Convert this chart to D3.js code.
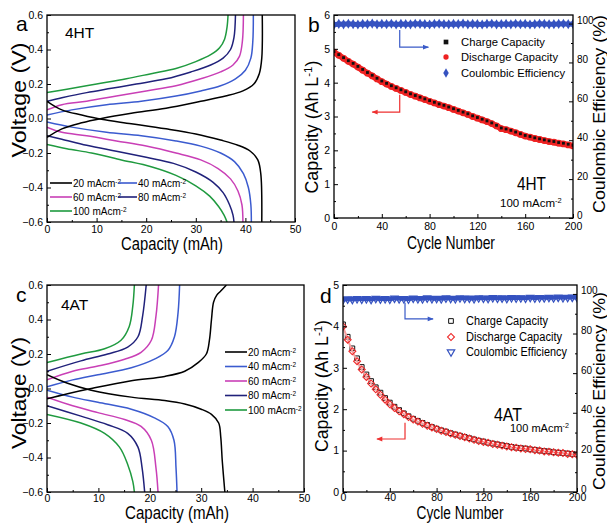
<!DOCTYPE html>
<html>
<head>
<meta charset="utf-8">
<script src="https://cdn.jsdelivr.net/npm/d3@7"></script>
<style>
  body { margin: 0; background: #fff; }
  text { font-family: "Liberation Sans", Arial, sans-serif; fill: #000; }
</style>
</head>
<body>
<script>
// ---- data ----
const rates = ["20", "40", "60", "80", "100"];
const rateColors = ["#000000", "#3b5bcf", "#c93fb6", "#20217a", "#1f9a3f"];

// panel a (4HT): [capacity mAh, voltage V], one curve per rate
const htCharge = [
  [[0,-0.11],[3,-0.06],[7,-0.025],[11,0],[17,0.03],[24,0.06],[31,0.1],[36,0.13],[39.5,0.16],[41.7,0.2],[42.8,0.26],[43.3,0.35],[43.4,0.6]],
  [[0,0.02],[5,0.05],[12,0.08],[19,0.1],[26,0.13],[31,0.16],[35,0.19],[38,0.23],[40,0.28],[41.1,0.35],[41.5,0.45],[41.6,0.6]],
  [[0,0.05],[3,0.08],[8,0.1],[14,0.13],[20,0.16],[26,0.19],[31,0.23],[35,0.27],[37.5,0.31],[38.8,0.36],[39.4,0.45],[39.6,0.6]],
  [[0,0.1],[3,0.12],[8,0.15],[13,0.175],[18,0.2],[24,0.23],[29,0.27],[33,0.31],[35.5,0.35],[37,0.4],[37.7,0.47],[38,0.6]],
  [[0,0.15],[4,0.17],[10,0.2],[16,0.23],[21,0.26],[26,0.29],[30,0.33],[33,0.37],[34.8,0.41],[35.8,0.46],[36.3,0.53],[36.5,0.6]]
];
const htDischarge = [
  [[0,0.1],[3,0.05],[7,0.02],[11,-0.005],[17,-0.03],[24,-0.06],[30,-0.09],[35,-0.125],[38.5,-0.155],[41,-0.19],[42.5,-0.24],[43.1,-0.32],[43.3,-0.6]],
  [[0,-0.02],[5,-0.05],[12,-0.08],[19,-0.1],[26,-0.13],[31,-0.16],[35,-0.2],[37.8,-0.25],[39.6,-0.32],[40.6,-0.4],[41.1,-0.5],[41.2,-0.6]],
  [[0,-0.05],[3,-0.08],[8,-0.1],[14,-0.13],[20,-0.16],[26,-0.2],[31,-0.24],[34.5,-0.29],[37,-0.35],[38.5,-0.42],[39.3,-0.5],[39.5,-0.6]],
  [[0,-0.1],[3,-0.12],[8,-0.155],[14,-0.19],[20,-0.225],[25.5,-0.26],[30,-0.31],[33.5,-0.37],[35.5,-0.43],[36.8,-0.5],[37.5,-0.56],[37.7,-0.6]],
  [[0,-0.15],[4,-0.175],[9,-0.2],[15,-0.24],[21,-0.28],[26,-0.33],[30,-0.39],[32.8,-0.45],[34.6,-0.51],[35.7,-0.56],[36.3,-0.6]]
];

// panel c (4AT)
const atCharge = [
  [[0,-0.06],[4,-0.03],[8.6,0],[16.4,0.045],[22.9,0.07],[26.8,0.1],[29.4,0.15],[31,0.2],[31.6,0.28],[32,0.4],[32.4,0.5],[33,0.54],[33.8,0.565],[34.9,0.6]],
  [[0,0.01],[5,0.05],[9.9,0.08],[16.4,0.12],[20.9,0.17],[23.5,0.22],[24.8,0.3],[25.5,0.44],[25.8,0.6]],
  [[0,0.05],[5,0.1],[9.9,0.13],[15.1,0.17],[18.3,0.21],[20.3,0.28],[21.2,0.42],[21.7,0.6]],
  [[0,0.1],[6.6,0.16],[11.8,0.2],[15.7,0.24],[17.7,0.3],[18.6,0.42],[19.3,0.6]],
  [[0,0.15],[6.6,0.2],[11.2,0.23],[14.4,0.28],[16,0.36],[16.7,0.48],[17,0.6]]
];
const atDischarge = [
  [[0,0.08],[4,0.03],[8.6,-0.01],[16.4,-0.05],[22.9,-0.07],[26.8,-0.09],[30,-0.12],[32,-0.15],[33.4,-0.2],[33.8,-0.28],[34.1,-0.42],[34.6,-0.6]],
  [[0,-0.01],[5,-0.05],[9.9,-0.08],[16.4,-0.12],[20.9,-0.17],[23.5,-0.22],[24.7,-0.3],[25.1,-0.46],[25.3,-0.6]],
  [[0,-0.05],[5,-0.1],[9.9,-0.14],[15.1,-0.18],[18.3,-0.22],[20.3,-0.3],[21.2,-0.46],[21.6,-0.6]],
  [[0,-0.1],[6.6,-0.16],[11.8,-0.21],[15.7,-0.26],[17.7,-0.34],[18.5,-0.46],[19,-0.6]],
  [[0,-0.15],[6.6,-0.2],[11.2,-0.26],[14.1,-0.34],[15.7,-0.44],[16.7,-0.54],[17,-0.6]]
];

// panels b and d: sampled every 4 cycles
const cycles = [0,4,8,12,16,20,24,28,32,36,40,44,48,52,56,60,64,68,72,76,80,84,88,92,96,100,
  104,108,112,116,120,124,128,132,136,140,144,148,152,156,160,164,168,172,176,180,184,188,192,196,200];

const htChargeCap = [4.92,4.83,4.74,4.65,4.57,4.48,4.39,4.30,4.22,4.13,4.05,3.98,3.91,3.85,3.79,3.73,3.67,
  3.62,3.57,3.52,3.47,3.42,3.37,3.33,3.28,3.23,3.18,3.13,3.08,3.02,2.97,2.92,2.87,2.81,2.74,2.66,2.63,
  2.59,2.54,2.49,2.44,2.41,2.37,2.34,2.31,2.28,2.26,2.23,2.21,2.18,2.15];
const htDischargeCap = [4.90,4.81,4.72,4.63,4.55,4.46,4.37,4.28,4.20,4.11,4.03,3.96,3.89,3.83,3.77,3.71,3.65,
  3.60,3.55,3.50,3.45,3.40,3.35,3.31,3.26,3.21,3.16,3.11,3.06,3.00,2.95,2.90,2.85,2.79,2.72,2.64,2.61,
  2.57,2.52,2.47,2.42,2.39,2.35,2.32,2.29,2.26,2.24,2.21,2.19,2.16,2.13];
const htCE = [99.4,99.8,99.6,99.9,99.7,99.5,99.8,99.7,100.0,99.6,99.8,99.7,99.9,99.5,99.8,99.7,99.6,
  99.9,99.8,99.7,99.5,99.8,99.9,99.7,99.6,99.8,99.7,100.0,99.6,99.8,99.7,99.5,99.8,99.9,99.6,99.7,99.8,
  99.6,99.9,99.7,99.8,99.5,99.7,99.9,99.8,99.6,99.7,99.8,99.9,99.7,99.8];

const atChargeCap = [4.05,3.75,3.47,3.23,3.02,2.84,2.68,2.53,2.40,2.27,2.16,2.06,1.98,1.90,1.83,1.77,1.72,
  1.67,1.62,1.57,1.53,1.49,1.46,1.42,1.39,1.36,1.33,1.30,1.27,1.24,1.22,1.19,1.17,1.15,1.13,1.11,1.09,
  1.07,1.06,1.05,1.03,1.02,1.00,0.99,0.98,0.96,0.95,0.94,0.93,0.92,0.91];
const atDischargeCap = [4.00,3.68,3.40,3.16,2.96,2.78,2.62,2.48,2.35,2.23,2.12,2.03,1.95,1.88,1.81,1.75,1.70,
  1.65,1.60,1.56,1.52,1.48,1.45,1.41,1.38,1.35,1.32,1.29,1.26,1.23,1.21,1.19,1.16,1.14,1.12,1.10,1.08,
  1.07,1.05,1.04,1.03,1.01,1.00,0.98,0.97,0.96,0.95,0.94,0.92,0.91,0.90];
const atCE = [97.0,97.4,97.2,97.6,97.3,97.5,97.2,97.7,97.4,97.6,97.3,97.8,97.5,97.6,97.4,97.8,97.6,
  97.5,97.9,97.6,97.7,97.5,97.9,97.7,97.6,98.0,97.7,97.8,97.6,98.0,97.8,97.7,98.1,97.8,97.9,97.7,98.1,
  97.9,98.0,97.8,98.2,97.9,98.1,98.0,98.2,98.0,98.3,98.1,98.2,98.3,98.2];

// tick labels
const voltTicks = [-0.6,-0.4,-0.2,0.0,0.2,0.4,0.6];
const capTicks = [0,10,20,30,40,50];
const cycleTicks = [0,40,80,120,160,200];
const htCapTicks = [0,1,2,3,4,5,6];
const atCapTicks = [0,1,2,3,4,5];
const ceTicks = [0,20,40,60,80,100];
const seriesNames = ["Charge Capacity", "Discharge Capacity", "Coulombic Efficiency"];

const FONT = '"Liberation Sans", Arial, sans-serif';

const svg = d3.select("body").append("svg")
  .attr("width", 607)
  .attr("height", 523);
const defs = svg.append("defs");

function arrowMarker(id, color) {
  defs.append("marker")
    .attr("id", id)
    .attr("viewBox", "0 0 10 10")
    .attr("refX", 9).attr("refY", 5)
    .attr("markerWidth", 7).attr("markerHeight", 6)
    .attr("markerUnits", "userSpaceOnUse")
    .attr("orient", "auto")
    .append("path")
    .attr("d", "M0,1 L10,5 L0,9 Z")
    .attr("fill", color);
}
arrowMarker("arrBlue", "#3a5bc8");
arrowMarker("arrRed", "#ee3030");

// text with optional superscript parts: parts = [[str, isSup], ...]
function addText(g, x, y, parts, size, opts) {
  opts = opts || {};
  const t = g.append("text")
    .attr("font-size", size)
    .attr("text-anchor", opts.anchor || "start");
  if (opts.rotate) {
    t.attr("transform", `translate(${x},${y}) rotate(${opts.rotate})`);
  } else {
    t.attr("x", x).attr("y", y);
  }
  if (opts.length) t.attr("textLength", opts.length).attr("lengthAdjust", "spacingAndGlyphs");
  if (typeof parts === "string") parts = [[parts, false]];
  parts.forEach(p => {
    const s = t.append("tspan").text(p[0]);
    if (p[1]) s.attr("font-size", size * 0.65).attr("baseline-shift", "super");
  });
  return t;
}

function styleAxis(a, fs) {
  a.select(".domain").remove();
  a.attr("font-family", FONT).attr("font-size", fs);
  a.selectAll("line").attr("stroke", "#000").attr("stroke-width", 1);
  a.selectAll("text").attr("fill", "#000");
  return a;
}

function frame(g, box) {
  g.append("rect")
    .attr("x", box.x0).attr("y", box.y0)
    .attr("width", box.x1 - box.x0).attr("height", box.y1 - box.y0)
    .attr("fill", "none").attr("stroke", "#000").attr("stroke-width", 1.3);
}

function clip(id, box) {
  defs.append("clipPath").attr("id", id)
    .append("rect")
    .attr("x", box.x0).attr("y", box.y0)
    .attr("width", box.x1 - box.x0).attr("height", box.y1 - box.y0);
}

// ---- voltage profile panels ----
function voltagePanel(box, chargeSet, dischargeSet, id, pad) {
  const x = d3.scaleLinear().domain([0, 50]).range([box.x0, box.x1]);
  const y = d3.scaleLinear().domain([-0.6, 0.6]).range([box.y1, box.y0]);
  const g = svg.append("g");
  clip("clip" + id, box);

  const line = d3.line()
    .x(d => x(d[0]))
    .y(d => y(d[1]))
    .curve(d3.curveCatmullRom.alpha(0.5));

  const curves = g.append("g").attr("clip-path", `url(#clip${id})`);
  for (let i = rates.length - 1; i >= 0; i--) {
    [chargeSet[i], dischargeSet[i]].forEach(pts => {
      curves.append("path")
        .attr("d", line(pts))
        .attr("fill", "none")
        .attr("stroke", rateColors[i])
        .attr("stroke-width", 1.5);
    });
  }

  // minor + major ticks, pointing inward
  styleAxis(g.append("g").attr("transform", `translate(0,${box.y1})`)
    .call(d3.axisBottom(x).tickValues([5, 15, 25, 35, 45]).tickSize(-2).tickFormat("")), 10.5);
  styleAxis(g.append("g").attr("transform", `translate(0,${box.y1})`)
    .call(d3.axisBottom(x).tickValues(capTicks).tickSize(-4).tickPadding(pad).tickFormat(d3.format("d"))), 10.5);
  styleAxis(g.append("g").attr("transform", `translate(${box.x0},0)`)
    .call(d3.axisLeft(y).tickValues([-0.5, -0.3, -0.1, 0.1, 0.3, 0.5]).tickSize(-2).tickFormat("")), 10.5);
  styleAxis(g.append("g").attr("transform", `translate(${box.x0},0)`)
    .call(d3.axisLeft(y).tickValues(voltTicks).tickSize(-4).tickPadding(4).tickFormat(d3.format(".1f"))), 10.5);

  frame(g, box);
  return { g, x, y };
}

// legend entries for rates
function rateLegend(g, entries) {
  entries.forEach(e => {
    g.append("line")
      .attr("x1", e.lx0).attr("x2", e.lx1)
      .attr("y1", e.y).attr("y2", e.y)
      .attr("stroke", rateColors[e.i]).attr("stroke-width", 1.6);
    addText(g, e.lx1 + 1, e.y + 3.5, [[rates[e.i] + " mAcm", false], ["-2", true]], 10);
  });
}

// ---- cycling panels ----
function cyclePanel(box, capMax, capTicks, ceMax, ser, id, opts) {
  const x = d3.scaleLinear().domain([0, 200]).range([box.x0, box.x1]);
  const yL = d3.scaleLinear().domain([0, capMax]).range([box.y1, box.y0]);
  const yR = d3.scaleLinear().domain([0, ceMax]).range([box.y1, box.y0]);
  const g = svg.append("g");
  clip("clip" + id, box);
  const marks = g.append("g").attr("clip-path", `url(#clip${id})`);

  const sym = (type, size) => d3.symbol().type(type).size(size)();

  function drawSeries(vals, scale, st) {
    if (st.band) {
      marks.append("path")
        .attr("d", d3.line().x((c, i) => x(c)).y((c, i) => scale(vals[i]))(cycles))
        .attr("fill", "none")
        .attr("stroke", st.band.color)
        .attr("stroke-width", st.band.width)
        .attr("stroke-linejoin", "round")
        .attr("stroke-linecap", "round");
    }
    marks.append("g").selectAll("path")
      .data(cycles)
      .join("path")
      .attr("transform", (c, i) => `translate(${x(c)},${scale(vals[i])})` + (st.rot ? ` rotate(${st.rot})` : ""))
      .attr("d", sym(st.type, st.size))
      .attr("fill", st.fill)
      .attr("stroke", st.stroke || "none")
      .attr("stroke-width", st.sw || 0);
  }
  ser.order.forEach(k => {
    const s = ser[k];
    drawSeries(s.vals, k === "ce" ? yR : yL, s.style);
  });

  // axes
  styleAxis(g.append("g").attr("transform", `translate(0,${box.y1})`)
    .call(d3.axisBottom(x).tickValues([20, 60, 100, 140, 180]).tickSize(-2).tickFormat("")), 10.5);
  styleAxis(g.append("g").attr("transform", `translate(0,${box.y1})`)
    .call(d3.axisBottom(x).tickValues(cycleTicks).tickSize(-4).tickPadding(opts.pad).tickFormat(d3.format("d"))), 10.5);
  const minorL = capTicks.slice(0, -1).map(v => v + 0.5);
  styleAxis(g.append("g").attr("transform", `translate(${box.x0},0)`)
    .call(d3.axisLeft(yL).tickValues(minorL).tickSize(-2).tickFormat("")), 10.5);
  styleAxis(g.append("g").attr("transform", `translate(${box.x0},0)`)
    .call(d3.axisLeft(yL).tickValues(capTicks).tickSize(-4).tickPadding(4).tickFormat(d3.format("d"))), 10.5);
  styleAxis(g.append("g").attr("transform", `translate(${box.x1},0)`)
    .call(d3.axisRight(yR).tickValues([10, 30, 50, 70, 90]).tickSize(-2).tickFormat("")), 10.5);
  styleAxis(g.append("g").attr("transform", `translate(${box.x1},0)`)
    .call(d3.axisRight(yR).tickValues(ceTicks).tickSize(-4).tickPadding(4).tickFormat(d3.format("d"))), 10)
    .selectAll("text").attr("dy", "0.0em");

  frame(g, box);

  // legend
  ["charge", "discharge", "ce"].forEach((k, i) => {
    const st = ser[k].style;
    const ly = opts.legY[i];
    g.append("path")
      .attr("transform", `translate(${opts.legX},${ly})` + (st.rot ? ` rotate(${st.rot})` : ""))
      .attr("d", sym(st.type, st.legSize || st.size))
      .attr("fill", st.fill)
      .attr("stroke", st.stroke || "none")
      .attr("stroke-width", st.sw || 0);
    addText(g, opts.legX + 15, ly + 4, seriesNames[i], opts.legFont, { length: opts.legLen[i] });
  });

  // arrows pointing to the axes
  const ab = opts.arrowBlue, ar = opts.arrowRed;
  g.append("path")
    .attr("d", d3.line()([[x(ab[0]), yL(ab[1])], [x(ab[0]), yL(ab[2])], [x(ab[3]), yL(ab[2])]]))
    .attr("fill", "none").attr("stroke", "#3a5bc8").attr("stroke-width", 1.2)
    .attr("marker-end", "url(#arrBlue)");
  g.append("path")
    .attr("d", d3.line()([[x(ar[0]), yL(ar[1])], [x(ar[0]), yL(ar[2])], [x(ar[3]), yL(ar[2])]]))
    .attr("fill", "none").attr("stroke", "#ee3030").attr("stroke-width", 1.2)
    .attr("marker-end", "url(#arrRed)");

  return { g, x, yL, yR };
}

// ---- panel a ----
const boxA = { x0: 47, x1: 295, y0: 15, y1: 222 };
const pa = voltagePanel(boxA, htCharge, htDischarge, "a", 3.5);
rateLegend(pa.g, [
  { i: 0, lx0: 50, lx1: 72, y: 183 },
  { i: 1, lx0: 118, lx1: 137, y: 183 },
  { i: 2, lx0: 50, lx1: 72, y: 197 },
  { i: 3, lx0: 118, lx1: 137, y: 197 },
  { i: 4, lx0: 50, lx1: 72, y: 211 }
]);
addText(svg, 65, 38, "4HT", 15.5);
addText(svg, 16, 31, "a", 21);
addText(svg, 172, 249.5, "Capacity (mAh)", 17.5, { anchor: "middle", length: 102 });
addText(svg, 26, 100, "Voltage (V)", 21, { anchor: "middle", rotate: -90, length: 115 });

// ---- panel c ----
const boxC = { x0: 47, x1: 304, y0: 285, y1: 492 };
const pc = voltagePanel(boxC, atCharge, atDischarge, "c", 2.5);
rateLegend(pc.g, [0, 1, 2, 3, 4].map(i => ({ i, lx0: 225, lx1: 247, y: 352 + i * 14.5 })));
addText(svg, 61, 310, "4AT", 15.5);
addText(svg, 16, 302, "c", 21);
addText(svg, 177, 519, "Capacity (mAh)", 17.5, { anchor: "middle", length: 104 });
addText(svg, 26, 393, "Voltage (V)", 21, { anchor: "middle", rotate: -90, length: 112 });

// ---- panel b ----
const boxB = { x0: 334, x1: 573, y0: 15, y1: 218 };
cyclePanel(boxB, 6, htCapTicks, 104.4, {
  order: ["ce", "discharge", "charge"],
  charge: { vals: htChargeCap, style: { type: d3.symbolSquare, size: 8, fill: "#111", legSize: 22 } },
  discharge: { vals: htDischargeCap, style: { type: d3.symbolCircle, size: 36, fill: "#ee2222", legSize: 22, band: { color: "#ee2222", width: 6 } } },
  ce: { vals: htCE, style: { type: d3.symbolDiamond, size: 30, fill: "#3552c0", legSize: 26, band: { color: "#3552c0", width: 5 } } }
}, "b", {
  legX: 446, legY: [42, 57, 73], legFont: 11.5, legLen: [84, 97, 104], pad: 5,
  arrowBlue: [55, 5.56, 5.05, 79],
  arrowRed: [55, 3.64, 3.13, 32]
});
addText(svg, 517, 190, "4HT", 18, { length: 29 });
addText(svg, 500, 207, [["100 mAcm", false], ["-2", true]], 11.5);
addText(svg, 308, 32, "b", 21);
addText(svg, 451, 249, "Cycle Number", 19, { anchor: "middle", length: 88 });
addText(svg, 318, 127, [["Capacity (Ah L", false], ["-1", true], [")", false]], 18, { anchor: "middle", rotate: -90, length: 133 });
addText(svg, 605, 114, "Coulombic Efficiency (%)", 16.5, { anchor: "middle", rotate: -90, length: 198 });

// ---- panel d ----
const boxD = { x0: 343, x1: 577, y0: 285, y1: 492 };
cyclePanel(boxD, 5, atCapTicks, 104.5, {
  order: ["ce", "charge", "discharge"],
  charge: { vals: atChargeCap, style: { type: d3.symbolSquare, size: 22, fill: "none", stroke: "#111", sw: 1 } },
  discharge: { vals: atDischargeCap, style: { type: d3.symbolSquare, size: 24, fill: "none", stroke: "#ee2a2a", sw: 1.1, rot: 45, band: { color: "#f6a0a0", width: 2 } } },
  ce: { vals: atCE, style: { type: d3.symbolTriangle, size: 24, fill: "none", stroke: "#3552c0", sw: 1.2, rot: 180, band: { color: "#3552c0", width: 4 } } }
}, "d", {
  legX: 451, legY: [321, 337, 352], legFont: 12, legLen: [82, 96, 101], pad: 2,
  arrowBlue: [53, 4.57, 4.18, 77],
  arrowRed: [53, 1.67, 1.28, 29]
});
addText(svg, 494, 421, "4AT", 18, { length: 28 });
addText(svg, 510, 432, [["100 mAcm", false], ["-2", true]], 11);
addText(svg, 320, 303, "d", 21);
addText(svg, 460, 519, "Cycle Number", 17.5, { anchor: "middle", length: 87 });
addText(svg, 328, 386, [["Capacity (Ah L", false], ["-1", true], [")", false]], 18, { anchor: "middle", rotate: -90, length: 132 });
addText(svg, 605, 391, "Coulombic Efficiency (%)", 16.5, { anchor: "middle", rotate: -90, length: 198 });
</script>
</body>
</html>
